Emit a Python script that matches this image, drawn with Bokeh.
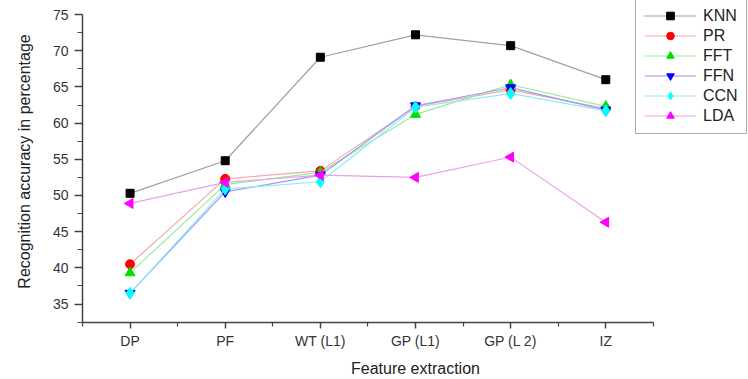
import math
from bokeh.plotting import figure
from bokeh.models import FixedTicker, Legend, LegendItem, Range1d
from bokeh.embed import file_html
from bokeh.resources import INLINE

categories = ["DP", "PF", "WT (L1)", "GP (L1)", "GP (L 2)", "IZ"]
knn = [50.3, 54.8, 69.1, 72.2, 70.7, 66.0]
pr = [40.5, 52.3, 53.4, 62.3, 64.6, 62.0]
fft = [39.3, 51.5, 53.2, 61.2, 65.3, 62.3]
ffn = [36.5, 50.5, 52.8, 62.4, 64.9, 61.8]
ccn = [36.5, 50.9, 51.9, 62.2, 64.1, 61.7]
lda = [48.9, 51.8, 52.8, 52.5, 55.3, 46.3]
y_ticks = [35, 40, 45, 50, 55, 60, 65, 70, 75]

FONT = "Liberation Sans"
xs = list(range(1, len(categories) + 1))

p = figure(width=748, height=379, output_backend="svg", toolbar_location=None,
           x_range=Range1d(0.5, 7.5), y_range=Range1d(32.45, 76.94),
           min_border_left=82, min_border_right=0, min_border_top=0, min_border_bottom=51)
p.outline_line_color = None
p.xgrid.visible = False
p.ygrid.visible = False

series = [
    ("KNN", knn, "#a0a0a0", "square", "black", 0.0, 8),
    ("PR", pr, "#f4a8a8", "circle", "red", 0.0, 9),
    ("FFT", fft, "#98ec98", "triangle", "#00e000", 0.0, 10),
    ("FFN", ffn, "#9a9af4", "inverted_triangle", "blue", 0.0, 10),
    ("CCN", ccn, "#90ecf4", "diamond", "cyan", 0.0, 12),
    ("LDA", lda, "#e8a0e8", "triangle", "magenta", math.pi / 2, 10),
]

items = []
for name, ys, lc, mk, mc, ang, sz in series:
    r1 = p.line(xs, ys, line_color=lc, line_width=1.2)
    r2 = p.scatter(x=xs, y=ys, marker=mk, size=sz, fill_color=mc, line_color=mc,
                   angle=[ang] * len(xs))
    items.append(LegendItem(label=name, renderers=[r1, r2], index=0))

p.xaxis.ticker = FixedTicker(ticks=xs, minor_ticks=[0.5 + i for i in range(7)])
p.xaxis.major_label_overrides = {x: c for x, c in zip(xs, categories)}
p.xaxis.bounds = (0.5, 6.5)
p.yaxis.ticker = FixedTicker(ticks=y_ticks, minor_ticks=[32.5 + 5 * i for i in range(9)])
p.yaxis.bounds = (32.45, 75)

for ax in (p.xaxis[0], p.yaxis[0]):
    ax.axis_line_color = "#444444"
    ax.axis_line_width = 1.5
    ax.major_tick_line_color = "#444444"
    ax.minor_tick_line_color = "#444444"
    ax.major_tick_line_width = 1.5
    ax.minor_tick_line_width = 1.2
    ax.major_tick_in = 0
    ax.minor_tick_in = 0
    ax.major_label_text_font = FONT
    ax.major_label_text_font_size = "14px"
    ax.major_label_text_color = "#333333"
    ax.axis_label_text_font = FONT
    ax.axis_label_text_font_style = "normal"
    ax.axis_label_text_font_size = "16px"
    ax.axis_label_text_color = "#222222"

p.yaxis.major_tick_out = 8
p.yaxis.minor_tick_out = 5
p.xaxis.major_tick_out = 6
p.xaxis.minor_tick_out = 4
p.yaxis.major_label_standoff = 6
p.xaxis.major_label_standoff = 4
p.yaxis.axis_label = "Recognition accuracy in percentage"
p.xaxis.axis_label = "Feature extraction"
p.yaxis.axis_label_standoff = 17
p.xaxis.axis_label_standoff = 8

legend = Legend(items=items, location=(553, 188))
legend.label_text_font = FONT
legend.label_text_font_size = "16px"
legend.label_text_color = "#222222"
legend.glyph_width = 52
legend.glyph_height = 19
legend.label_height = 19
legend.spacing = 1
legend.padding = 8
legend.margin = 0
legend.label_standoff = 7
legend.border_line_color = "#555555"
legend.border_line_width = 1.5
legend.background_fill_color = "white"
legend.background_fill_alpha = 1.0
p.add_layout(legend)

open("out.html", "w").write(file_html(p, INLINE))
